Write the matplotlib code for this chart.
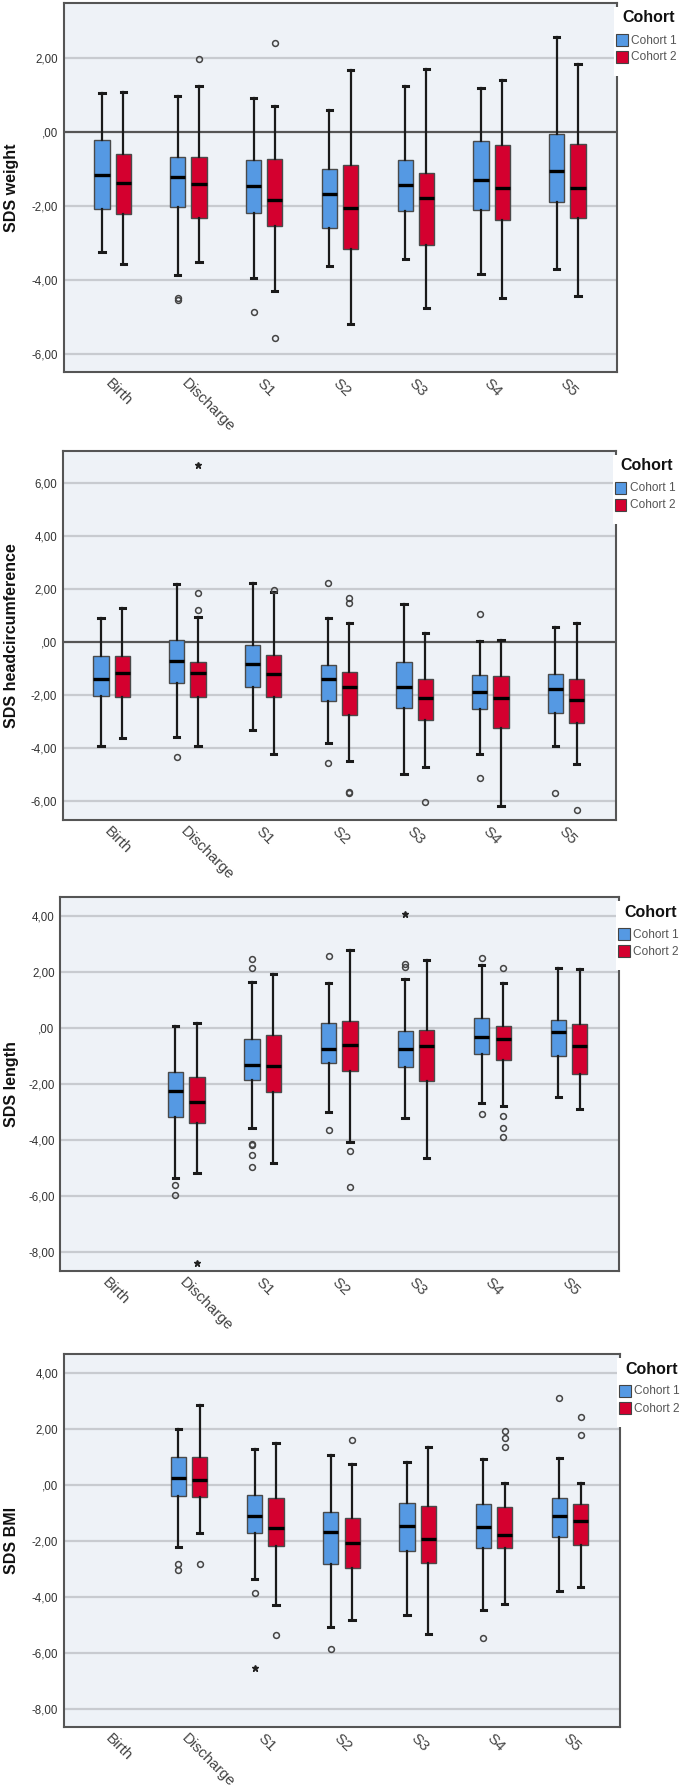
import numpy as np
import matplotlib
matplotlib.use("Agg")
import matplotlib.pyplot as plt
from matplotlib import font_manager as fm
from matplotlib.patches import Rectangle

# categories on the x axis
categories = ["Birth", "Discharge", "S1", "S2", "S3", "S4", "S5"]

# box stats per category: (low whisker, Q1, median, Q3, high whisker)
weight_c1 = [(-3.25, -2.08, -1.15, -0.22, 1.07), (-3.87, -2.02, -1.22, -0.68, 0.99),
             (-3.95, -2.20, -1.45, -0.75, 0.92), (-3.63, -2.61, -1.67, -1.00, 0.59),
             (-3.44, -2.15, -1.44, -0.75, 1.24), (-3.85, -2.10, -1.29, -0.25, 1.19),
             (-3.70, -1.88, -1.05, -0.05, 2.59)]
weight_c2 = [(-3.56, -2.23, -1.39, -0.60, 1.10), (-3.51, -2.34, -1.41, -0.66, 1.26),
             (-4.30, -2.55, -1.83, -0.74, 0.70), (-5.19, -3.16, -2.06, -0.90, 1.68),
             (-4.76, -3.07, -1.78, -1.12, 1.71), (-4.50, -2.39, -1.50, -0.35, 1.40),
             (-4.43, -2.34, -1.50, -0.33, 1.84)]
weight_c1_out = [[], [-4.50, -4.55], [-4.87], [], [], [], []]
weight_c2_out = [[], [1.97], [2.41, -5.57], [], [], [], []]
weight_c1_ext = [[], [], [], [], [], [], []]
weight_c2_ext = [[], [], [], [], [], [], []]

head_c1 = [(-3.90, -2.05, -1.39, -0.51, 0.91), (-3.57, -1.56, -0.71, 0.08, 2.19),
           (-3.32, -1.71, -0.81, -0.11, 2.23), (-3.80, -2.23, -1.39, -0.85, 0.91),
           (-4.96, -2.47, -1.68, -0.74, 1.44), (-4.21, -2.54, -1.89, -1.23, 0.05),
           (-3.92, -2.67, -1.78, -1.19, 0.58)]
head_c2 = [(-3.63, -2.07, -1.15, -0.54, 1.29), (-3.90, -2.07, -1.16, -0.76, 0.95),
           (-4.23, -2.07, -1.19, -0.48, 1.90), (-4.48, -2.74, -1.69, -1.14, 0.71),
           (-4.69, -2.93, -2.10, -1.38, 0.33), (-6.17, -3.23, -2.09, -1.29, 0.06),
           (-4.61, -3.05, -2.19, -1.39, 0.73)]
head_c1_out = [[], [-4.33], [], [2.23, -4.54], [], [1.04, -5.12], [-5.69]]
head_c2_out = [[], [1.86, 1.21], [1.97], [1.64, 1.45, -5.63, -5.69], [-6.02], [], [-6.32]]
head_c1_ext = [[], [], [], [], [], [], []]
head_c2_ext = [[], [6.66], [], [], [], [], []]

length_c1 = [None, (-5.35, -3.18, -2.23, -1.58, 0.08), (-3.57, -1.86, -1.32, -0.39, 1.63),
             (-2.99, -1.26, -0.75, 0.18, 1.60), (-3.20, -1.37, -0.75, -0.10, 1.74),
             (-2.67, -0.93, -0.32, 0.36, 2.27), (-2.46, -1.01, -0.15, 0.29, 2.14)]
length_c2 = [None, (-5.17, -3.40, -2.65, -1.76, 0.17), (-4.80, -2.27, -1.36, -0.25, 1.93),
             (-4.08, -1.54, -0.61, 0.26, 2.79), (-4.65, -1.90, -0.64, -0.06, 2.42),
             (-2.77, -1.14, -0.38, 0.08, 1.62), (-2.87, -1.63, -0.65, 0.13, 2.12)]
length_c1_out = [[], [-5.60, -5.96], [2.48, 2.15, -4.13, -4.19, -4.52, -4.94],
                 [2.56, -3.65], [2.30, 2.18], [2.52, -3.08], []]
length_c2_out = [[], [], [], [-4.40, -5.67], [], [2.15, -3.14, -3.58, -3.87], []]
length_c1_ext = [[], [], [], [], [4.07], [], []]
length_c2_ext = [[], [-8.40], [], [], [], [], []]

bmi_c1 = [None, (-2.23, -0.39, 0.26, 1.01, 1.99), (-3.36, -1.74, -1.10, -0.37, 1.29),
          (-5.09, -2.84, -1.68, -0.98, 1.07), (-4.67, -2.37, -1.47, -0.66, 0.82),
          (-4.48, -2.26, -1.49, -0.69, 0.93), (-3.81, -1.88, -1.13, -0.48, 0.95)]
bmi_c2 = [None, (-1.73, -0.44, 0.18, 1.00, 2.84), (-4.28, -2.19, -1.54, -0.48, 1.49),
          (-4.84, -2.98, -2.07, -1.19, 0.73), (-5.32, -2.80, -1.93, -0.77, 1.35),
          (-4.26, -2.25, -1.78, -0.81, 0.08), (-3.64, -2.15, -1.29, -0.70, 0.05)]
bmi_c1_out = [[], [-2.82, -3.05], [-3.87], [-5.86], [], [-5.48], [3.11]]
bmi_c2_out = [[], [-2.84], [-5.36], [1.61], [], [1.94, 1.69, 1.35], [2.41, 1.78]]
bmi_c1_ext = [[], [], [-6.54], [], [], [], []]
bmi_c2_ext = [[], [], [], [], [], [], []]

BLUE = "#5599E3"
RED = "#D4002F"
BG = "#EEF2F7"
GRID = "#C8CBD0"
SPINE = "#555555"

names = {f.name for f in fm.fontManager.ttflist}
font = "Liberation Sans" if "Liberation Sans" in names else "DejaVu Sans"
narrow = "Liberation Sans Narrow" if "Liberation Sans Narrow" in names else font
plt.rcParams["font.family"] = font

W, H = 685, 1787
fig = plt.figure(figsize=(W / 100, H / 100), dpi=100)


def fx(x):
    return x / W


def fy(y):
    return 1 - y / H


def fmt(v):
    s = "%.2f" % v
    s = s.replace(".", ",")
    if s.startswith("0,"):
        s = s[1:]
    return s


def draw_panel(box, c1, c2, c1_out, c2_out, c1_ext, c2_ext, ylabel, ylim, yticks, zero_dark):
    left, right, top, bottom = box
    ax = fig.add_axes([fx(left), fy(bottom), (right - left) / W, (bottom - top) / H])
    ax.set_facecolor(BG)
    for t in yticks:
        if t == 0 and zero_dark:
            ax.axhline(0, color="#555555", lw=1.6, zorder=1)
        else:
            ax.axhline(t, color=GRID, lw=1.6, zorder=0.5)

    for data, out, ext, off, col in [(c1, c1_out, c1_ext, -0.14, BLUE),
                                     (c2, c2_out, c2_ext, 0.14, RED)]:
        stats, pos = [], []
        for i, s in enumerate(data):
            if s is None:
                continue
            lo, q1, med, q3, hi = s
            stats.append(dict(whislo=lo, q1=q1, med=med, q3=q3, whishi=hi, fliers=[]))
            pos.append(i + off)
        ax.bxp(stats, positions=pos, widths=0.2, capwidths=0.07, patch_artist=True,
               showfliers=False,
               boxprops=dict(facecolor=col, edgecolor="#4a4a4a", lw=1.0),
               medianprops=dict(color="black", lw=2.4),
               whiskerprops=dict(color="#1a1a1a", lw=1.6),
               capprops=dict(color="#1a1a1a", lw=2.2), zorder=2)
        for i in range(len(categories)):
            if out[i]:
                ax.plot([i + off] * len(out[i]), out[i], "o", ms=4.2, mfc="none",
                        mec="#444444", mew=1.1, zorder=3)
            if ext[i]:
                ax.plot([i + off] * len(ext[i]), ext[i], "*", ms=4.5, color="#222222",
                        zorder=3)

    ax.set_xlim(-0.645, 6.655)
    ax.set_ylim(*ylim)
    ax.set_yticks(yticks)
    ax.set_yticklabels([fmt(t) for t in yticks], fontsize=8.3, color="#333333",
                       family=narrow)
    ax.tick_params(axis="y", length=0, pad=4)
    ax.set_xticks(range(len(categories)))
    ax.set_xticklabels(categories, rotation=-45, ha="left", va="top",
                       rotation_mode="anchor", fontsize=11, color="#444444")
    ax.tick_params(axis="x", length=0, pad=3)
    for sp in ax.spines.values():
        sp.set_color(SPINE)
        sp.set_linewidth(1.5)

    fig.text(fx(11.5), fy((top + bottom) / 2), ylabel, rotation=90, ha="center",
             va="center", fontsize=11.5, fontweight="bold", color="#111111")

    # white legend area covering the upper part of the right spine
    fig.add_artist(Rectangle((fx(right - 3), fy(top + 73)), 6 / W, 69 / H,
                             transform=fig.transFigure, facecolor="white",
                             edgecolor="none", zorder=5))
    fig.text(fx(right + 5), fy(top + 15), "Cohort", ha="left", va="center",
             fontsize=11.5, fontweight="bold", color="#111111", zorder=6)
    for k, (lab, col) in enumerate([("Cohort 1", BLUE), ("Cohort 2", RED)]):
        y0 = top + 31 + 17 * k
        fig.add_artist(Rectangle((fx(right - 1), fy(y0 + 12)), 11.5 / W, 12 / H,
                                 transform=fig.transFigure, facecolor=col,
                                 edgecolor="#444444", lw=0.8, zorder=6))
        fig.text(fx(right + 14), fy(y0 + 6.5), lab, ha="left", va="center",
                 fontsize=8.6, color="#555555", zorder=6)
    return ax


draw_panel((63.7, 617, 3, 372), weight_c1, weight_c2, weight_c1_out, weight_c2_out,
           weight_c1_ext, weight_c2_ext, "SDS weight", (-6.5, 3.5),
           [-6, -4, -2, 0, 2], True)
draw_panel((62.8, 615.7, 450.7, 820), head_c1, head_c2, head_c1_out, head_c2_out,
           head_c1_ext, head_c2_ext, "SDS headcircumference", (-6.7, 7.2),
           [-6, -4, -2, 0, 2, 4, 6], True)
draw_panel((60.2, 619.2, 897.3, 1271), length_c1, length_c2, length_c1_out, length_c2_out,
           length_c1_ext, length_c2_ext, "SDS length", (-8.67, 4.67),
           [-8, -6, -4, -2, 0, 2, 4], False)
draw_panel((63.7, 620, 1354, 1726.7), bmi_c1, bmi_c2, bmi_c1_out, bmi_c2_out,
           bmi_c1_ext, bmi_c2_ext, "SDS BMI", (-8.65, 4.68),
           [-8, -6, -4, -2, 0, 2, 4], False)

fig.savefig("out.png", dpi=100, facecolor="white")
